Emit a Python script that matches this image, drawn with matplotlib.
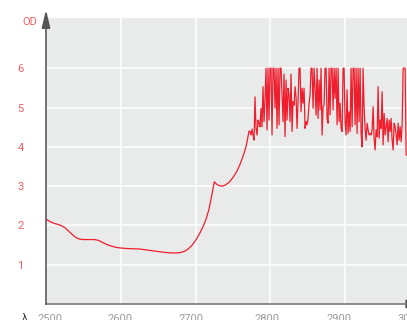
import matplotlib
matplotlib.use('Agg')
import matplotlib.pyplot as plt
import numpy as np
from matplotlib.lines import Line2D
from matplotlib.patches import Polygon
from matplotlib.transforms import ScaledTranslation

plt.rcParams['font.family'] = ['Roboto', 'DejaVu Sans']

# smooth part of the spectrum (nm, OD)
wl_smooth = [2500, 2505, 2511, 2517, 2522, 2526, 2530, 2535, 2540, 2545,
             2550, 2558, 2565, 2570, 2575, 2582, 2588, 2594, 2602, 2610,
             2625, 2640, 2652, 2660, 2668, 2675, 2680, 2685, 2690, 2695,
             2700, 2705, 2710, 2714, 2718, 2722, 2725, 2728, 2732, 2736,
             2740, 2745, 2750, 2755, 2760, 2765, 2768]
od_smooth = [2.16, 2.10, 2.05, 2.02, 1.98, 1.93, 1.86, 1.77, 1.69, 1.65,
             1.64, 1.64, 1.64, 1.62, 1.57, 1.51, 1.47, 1.44, 1.42, 1.41,
             1.40, 1.36, 1.33, 1.31, 1.30, 1.30, 1.31, 1.34, 1.40, 1.49,
             1.62, 1.78, 1.97, 2.16, 2.42, 2.80, 3.11, 3.05, 3.01, 3.00,
             3.03, 3.10, 3.22, 3.37, 3.58, 3.85, 4.05]

# noisy part, sampled every ~1.34 nm, detector saturates at OD 6
noisy_start = 2771.4
noisy_step = 1.338
od_noisy = [
    4.40, 4.39, 4.30, 4.45, 4.30, 4.17, 5.27, 4.47, 4.30, 4.68,
    4.60, 4.51, 4.98, 4.51, 5.53, 4.64, 5.20, 6.00, 4.43, 6.00,
    4.68, 6.00, 6.00, 4.30, 6.00, 6.00, 4.98, 6.00, 4.47, 6.00,
    4.56, 6.00, 6.00, 5.32, 4.64, 5.85, 4.26, 5.70, 4.68, 5.49,
    5.32, 4.64, 5.85, 4.39, 5.15, 5.06, 5.53, 5.27, 4.47, 5.15,
    6.00, 6.00, 4.89, 5.49, 5.11, 5.49, 4.47, 4.64, 4.56, 4.72,
    5.10, 5.32, 6.00, 6.00, 4.98, 6.00, 5.49, 4.81, 6.00, 4.72,
    5.70, 4.94, 6.00, 4.30, 5.02, 5.06,
    6.00, 6.00, 4.72, 4.60, 6.00, 4.81, 6.00, 6.00, 4.94, 6.00,
    5.23, 6.00, 4.56, 6.00, 4.64, 5.11, 4.47, 4.39, 6.00, 6.00,
    4.64, 4.30, 5.45, 4.34, 4.89, 4.39, 6.00, 4.51, 6.00, 6.00,
    4.56, 6.00, 4.34, 6.00, 4.64, 6.00, 4.34, 4.00, 6.00, 4.98,
    4.47, 4.17, 4.60, 4.43, 4.30, 4.34, 4.30, 4.43, 5.02, 4.22,
    3.92, 4.43, 4.26, 5.53, 4.22, 4.68, 4.47, 5.40, 4.05, 4.85,
    4.30, 4.51, 4.72, 4.13, 4.68, 4.39, 4.72, 4.17, 3.92, 4.60,
    4.51, 4.30, 4.05, 4.60, 4.17, 4.51, 4.13, 4.56, 6.00, 6.00,
    6.00, 3.79]

x_ticks = [2500, 2600, 2700, 2800, 2900, 3000]
y_ticks = [1, 2, 3, 4, 5, 6]

wl_noisy = noisy_start + noisy_step * np.arange(len(od_noisy))
wl = np.concatenate([wl_smooth, wl_noisy])
od = np.concatenate([od_smooth, od_noisy])

W, H = 407, 320
fig = plt.figure(figsize=(W / 100, H / 100), dpi=100)
ax = fig.add_axes([46 / W, 16 / H, 374 / W, 286.3 / H])
ax.set_facecolor('#e9eaea')

ax.plot(wl, od, color='#f01e2c', lw=0.9, solid_joinstyle='round')

ax.set_xlim(2500, 3000)
ax.set_ylim(0, 7.285)
ax.set_xticks(x_ticks)
ax.set_yticks(y_ticks)
ax.grid(True, color='white', lw=1.1)
ax.set_axisbelow(True)
for s in ax.spines.values():
    s.set_visible(False)
ax.tick_params(length=0)
ax.tick_params(axis='y', pad=16, labelcolor='#f05c62', labelsize=8)
ax.tick_params(axis='x', pad=7.5, labelcolor='#9a9a9a', labelsize=8)

# nudge the x labels a little
dxs = [4, -1, -5, -3, -6, -10]
for lab, dx in zip(ax.get_xticklabels(), dxs):
    lab.set_transform(lab.get_transform() + ScaledTranslation(dx / 100, 0, fig.dpi_scale_trans))


def fpt(px, py):
    return (px / W, 1 - py / H)


# axis lines with arrow heads
fig.add_artist(Line2D([46 / W, 406 / W], [1 - 304 / H] * 2, color='#7a7a7a', lw=1.2))
fig.add_artist(Polygon([fpt(406, 300.3), fpt(421, 304), fpt(406, 307.7)], closed=True,
                       color='#555555', transform=fig.transFigure))
fig.add_artist(Line2D([46 / W] * 2, [1 - 304 / H, 1 - 27 / H], color='#5a5a5a', lw=1.2))
fig.add_artist(Polygon([fpt(42.3, 28.3), fpt(46, 12.7), fpt(49.7, 28.3)], closed=True,
                       color='#555555', transform=fig.transFigure))

fig.text(29.5 / W, 1 - 22 / H, 'OD', color='#f05c62', fontsize=8, ha='center', va='center')
fig.text(25 / W, 1 - 313 / H, 'λ', color='#444444', fontsize=8, ha='center', va='top')

fig.savefig('out.png', dpi=100)
